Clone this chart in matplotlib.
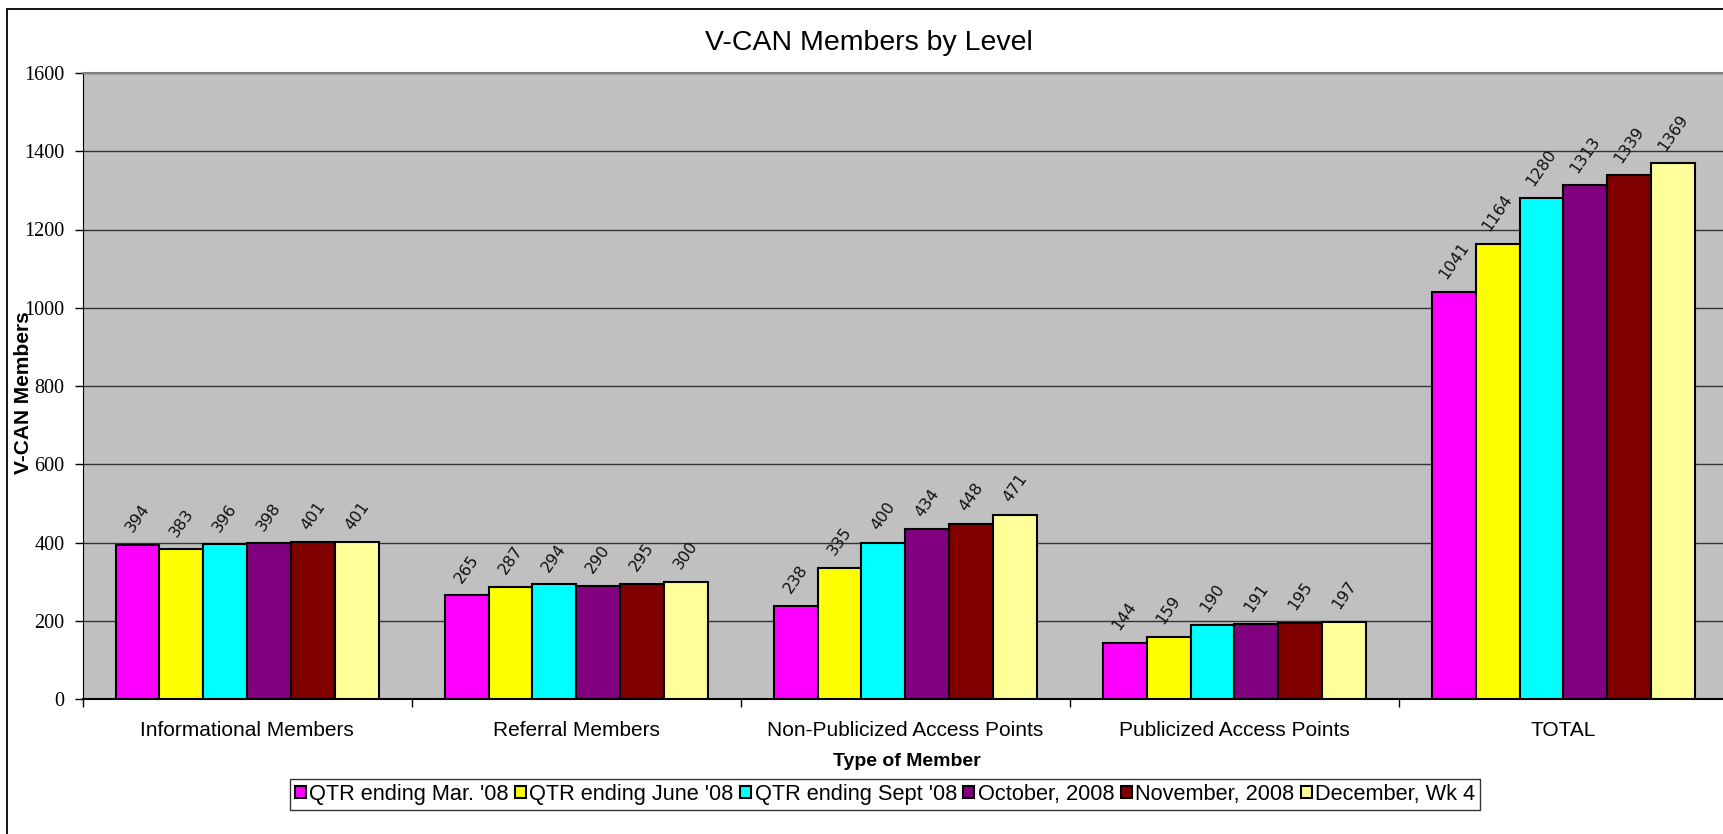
import matplotlib
matplotlib.use("Agg")
import matplotlib.pyplot as plt
from matplotlib.patches import Rectangle
import numpy as np

# data
categories = ["Informational Members", "Referral Members", "Non-Publicized Access Points",
              "Publicized Access Points", "TOTAL"]
series_names = ["QTR ending Mar. '08", "QTR ending June '08", "QTR ending Sept '08",
                "October, 2008", "November, 2008", "December, Wk 4"]
qtr_mar = [394, 265, 238, 144, 1041]
qtr_jun = [383, 287, 335, 159, 1164]
qtr_sep = [396, 294, 400, 190, 1280]
october = [398, 290, 434, 191, 1313]
november = [401, 295, 448, 195, 1339]
december = [401, 300, 471, 197, 1369]
series_vals = [qtr_mar, qtr_jun, qtr_sep, october, november, december]
colors = ["#FF00FF", "#FFFF00", "#00FFFF", "#800080", "#800000", "#FFFF99"]
yticks = [0, 200, 400, 600, 800, 1000, 1200, 1400, 1600]

W, H = 1723, 834
fig = plt.figure(figsize=(W / 100, H / 100), dpi=100)
fig.patch.set_facecolor("white")

# outer chart border (the original picture is cropped on the right and bottom)
fig.patches.append(Rectangle((7 / W, -0.2), 1.5, (834 - 9) / H + 0.2, transform=fig.transFigure,
                             fill=False, edgecolor="black", linewidth=1.3, zorder=0))

ax = fig.add_axes([82.7 / W, (834 - 699) / H, (1728 - 82.7) / W, (699 - 73) / H])
ax.set_facecolor("#C0C0C0")

x = np.arange(len(categories))
w = 1 / 7.5
for i, (vals, name, c) in enumerate(zip(series_vals, series_names, colors)):
    pos = x + (i - 2.5) * w
    bars = ax.bar(pos, vals, width=w, color=c, edgecolor="black", linewidth=1.5,
                  label=name, zorder=3)
    for b, v in zip(bars, vals):
        ax.annotate(str(v), xy=(b.get_x() + b.get_width() / 2, v), xytext=(0, 7),
                    textcoords="offset points", ha="center", va="bottom", rotation=55,
                    fontsize=11.5, family="DejaVu Sans", color="#111111", zorder=4)

ax.set_xlim(-0.5, len(categories) - 0.5)
ax.set_ylim(0, 1600)
ax.set_yticks(yticks)
ax.set_yticklabels([str(t) for t in yticks], family="Liberation Serif", fontsize=14.5)
ax.yaxis.grid(True, color="#333333", linewidth=1.0, zorder=1)
ax.set_axisbelow(True)
ax.tick_params(axis="y", direction="out", length=6, width=1, pad=7)

ax.set_xticks(x)
ax.set_xticklabels(categories, family="Liberation Sans", fontsize=15)
ax.set_xticks(np.arange(-0.5, len(categories), 1.0), minor=True)
ax.tick_params(axis="x", which="major", length=0, pad=16)
ax.tick_params(axis="x", which="minor", direction="out", length=6, width=1)

ax.spines["left"].set_color("black")
ax.spines["bottom"].set_color("black")
ax.spines["bottom"].set_linewidth(1.5)
ax.spines["top"].set_color("#808080")
ax.spines["top"].set_linewidth(1.5)
ax.spines["right"].set_visible(False)

ax.set_ylabel("V-CAN Members", family="Liberation Sans", fontweight="bold", fontsize=15)
ax.yaxis.set_label_coords((23.5 - 82.7) / (1728 - 82.7), 0.49)
ax.set_xlabel("Type of Member", family="Liberation Sans", fontweight="bold", fontsize=14)
ax.xaxis.set_label_coords((907 - 82.7) / (1728 - 82.7), -(761 - 699) / (699 - 73))
ax.xaxis.label.set_va("center")
ax.yaxis.label.set_va("center")

fig.text(869 / W, 1 - 43 / H, "V-CAN Members by Level", ha="center", va="center",
         family="Liberation Sans", fontsize=20.5)

leg = fig.legend(loc="center", bbox_to_anchor=(885 / W, 1 - 794.5 / H), ncol=6,
                 prop={"family": "Liberation Sans", "size": 15.7}, frameon=True,
                 fancybox=False, edgecolor="black", handlelength=0.5, handleheight=0.5,
                 handletextpad=0.15, columnspacing=0.3, borderpad=0.22, borderaxespad=0)
leg.get_frame().set_linewidth(1.0)

fig.savefig("out.png", dpi=100)
